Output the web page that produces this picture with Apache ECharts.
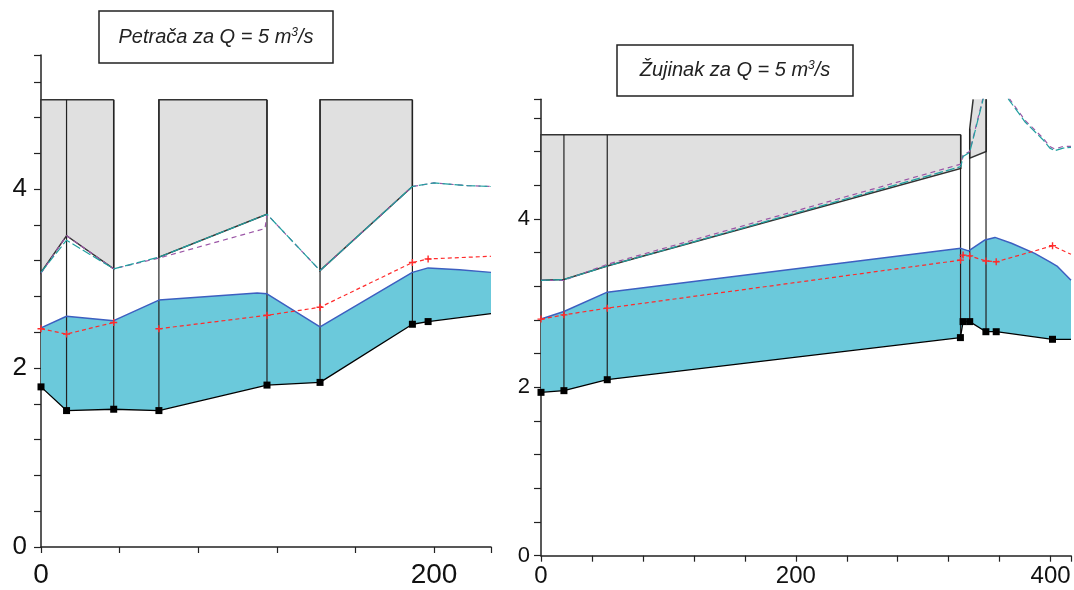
<!DOCTYPE html>
<html>
<head>
<meta charset="utf-8">
<script src="https://cdn.jsdelivr.net/npm/echarts@6/dist/echarts.min.js"></script>
<style>
html,body{margin:0;padding:0;background:#fff;}
#chart{width:1074px;height:590px;}
</style>
</head>
<body>
<div id="chart"></div>
<script>
// ---------- Petrača (left profile) ----------
const petStations = [0, 13, 37, 60, 115, 142, 189, 197, 229];
const petGround   = [1.79, 1.525, 1.54, 1.525, 1.81, 1.84, 2.49, 2.52, 2.61];
const petWater = [[0,2.45],[13,2.58],[37,2.53],[60,2.76],[110,2.84],[115,2.83],[142,2.46],[189,3.07],[197,3.12],[213,3.10],[229,3.07]];
const petCrit  = [[0,2.44],[13,2.38],[37,2.51],[48,null],[60,2.44],[115,2.59],[142,2.68],[189,3.18],[197,3.22],[229,3.25]];
const petEnergy  = [[0,3.07],[13,3.43],[37,3.11],[60,3.24],[115,3.72],[142,3.09],[189,4.03],[200,4.07],[217,4.04],[229,4.03]];
const petEnergy2 = [[0,3.06],[13,3.48],[37,3.11],[60,3.23],[114,3.56],[115,3.72],[142,3.09],[189,4.03],[200,4.07],[217,4.04],[229,4.03]];
const petDecks = [
  [[37,5],[0,5],[0,3.07],[13,3.48],[37,3.11],[37,5]],
  [[115,5],[60,5],[60,3.24],[115,3.72],[115,5]],
  [[189,5],[142,5],[142,3.09],[189,4.03],[189,5]]
];
const petPiers = [[13,5,1.525],[37,5,1.54],[60,5,1.525],[115,5,1.81],[142,5,1.84],[189,5,2.49]];

// ---------- Žujinak (right profile) ----------
const zujStations = [0, 18, 52, 329.2, 331.3, 336.5, 349.2, 357.3, 401.5, 416];
const zujGround   = [1.94, 1.96, 2.09, 2.59, 2.78, 2.78, 2.66, 2.66, 2.57, 2.57];
const zujWater = [[0,2.81],[18,2.90],[52,3.13],[329.5,3.65],[335.6,3.62],[348.5,3.75],[356.3,3.78],[369.3,3.71],[387.5,3.59],[399.4,3.49],[405,3.44],[416,3.27]];
const zujCrit  = [[0,2.81],[18,2.86],[52,2.94],[329.3,3.51],[331.3,3.57],[336.5,3.56],[349.2,3.50],[357.3,3.49],[401.5,3.68],[416,3.58]];
const zujEnergy  = [[0,3.27],[18,3.28],[52,3.44],[329.5,4.62],[331.3,4.74],[336.5,4.79],[347,5.42],[356,5.95],[367,5.42],[380,5.15],[394,4.94],[399.4,4.84],[403.3,4.81],[409.8,4.84],[416,4.85]];
const zujEnergy2 = [[0,3.27],[18,3.27],[52,3.46],[329.5,4.65],[331.3,4.76],[336.5,4.80],[347,5.44],[356,5.97],[367,5.44],[380,5.17],[394,4.96],[399.4,4.86],[403.3,4.83],[409.8,4.86],[416,4.86]];
const zujDecks = [
  [[329.5,5],[0,5],[0,3.27],[18,3.28],[52,3.44],[329.5,4.60],[329.5,5]],
  [[339.2,5.42],[336.5,5.07],[336.5,4.72],[349.5,4.80],[349.5,5.42]]
];
const zujPiers = [[18,5,1.96],[52,5,2.09],[329.3,5,2.59],[336.5,5.07,2.78],[349.3,5.42,2.66]];

// axis ranges and tick steps
const petXMax = 229, petYMax = 5.5;
const zujXMax = 416, zujYMax = 5.42;
const xStep = 40, yStep = 0.4;

const COLORS = {
  deck: '#e0e0e0', outline: '#333333', water: '#6bc9db', wsLine: '#3d5fc0',
  crit: '#ff2b2b', energy: '#21a0a0', energy2: '#9b55a6', ground: '#000000'
};

const chart = echarts.init(document.getElementById('chart'));

function pairs(xs, ys) { return xs.map((x, i) => [x, ys[i]]); }

function deckSeries(decks, idx) {
  return {
    type: 'custom', xAxisIndex: idx, yAxisIndex: idx, z: 1, silent: true,
    data: decks.map(d => d[2]),
    renderItem: (params, api) => {
      const pts = decks[params.dataIndex].map(p => api.coord(p));
      return { type: 'group', children: [
        { type: 'polygon', shape: { points: pts }, style: { fill: COLORS.deck } },
        { type: 'polyline', shape: { points: pts }, style: { stroke: COLORS.outline, lineWidth: 1.5, fill: null } }
      ]};
    }
  };
}

function waterFillSeries(water, stations, ground, idx) {
  return {
    type: 'custom', xAxisIndex: idx, yAxisIndex: idx, z: 2, silent: true,
    data: [water[0]],
    renderItem: (params, api) => {
      const top = water.map(p => api.coord(p));
      const bottom = pairs(stations, ground).reverse().map(p => api.coord(p));
      return { type: 'polygon', shape: { points: top.concat(bottom) }, style: { fill: COLORS.water } };
    }
  };
}

function pierSeries(piers, idx) {
  return {
    type: 'custom', xAxisIndex: idx, yAxisIndex: idx, z: 3, silent: true,
    data: piers, encode: { x: 0, y: [1, 2] },
    renderItem: (params, api) => {
      const a = api.coord([api.value(0), api.value(1)]);
      const b = api.coord([api.value(0), api.value(2)]);
      return { type: 'line', shape: { x1: a[0], y1: a[1], x2: b[0], y2: b[1] }, style: { stroke: '#222', lineWidth: 1.2 } };
    }
  };
}

function lineSeries(data, idx, color, width, dash, z, extra) {
  return Object.assign({
    type: 'line', xAxisIndex: idx, yAxisIndex: idx, data: data, z: z,
    symbol: 'none', silent: true, clip: true,
    lineStyle: { color: color, width: width, type: dash }
  }, extra || {});
}

const plus = 'path://M4,0H6V4H10V6H6V10H4V6H0V4H4Z';

function seriesFor(p, idx) {
  const ground = pairs(p.stations, p.ground);
  return [
    deckSeries(p.decks, idx),
    waterFillSeries(p.water, p.stations, p.ground, idx),
    pierSeries(p.piers, idx),
    lineSeries(p.water, idx, COLORS.wsLine, 1.5, 'solid', 4),
    lineSeries(ground, idx, COLORS.ground, 1.3, 'solid', 5, {
      symbol: 'rect', itemStyle: { color: COLORS.ground },
      symbolSize: (v, prm) => prm.dataIndex === ground.length - 1 ? 0 : 7
    }),
    lineSeries(p.energy2, idx, COLORS.energy2, 1.2, [5, 4], 6),
    lineSeries(p.energy, idx, COLORS.energy, 1.2, [9, 3], 6),
    lineSeries(p.crit, idx, COLORS.crit, 1.2, [4, 3], 7, {
      symbol: plus, itemStyle: { color: COLORS.crit },
      symbolSize: (v, prm) => prm.dataIndex === p.crit.length - 1 ? 0 : 7
    })
  ];
}

const labelEvery = step => v => (Math.abs(v / step - Math.round(v / step)) < 1e-6 ? String(Math.round(v)) : '');

function xAxis(idx, max, fontSize, margin) {
  return {
    type: 'value', gridIndex: idx, min: 0, max: max, interval: xStep,
    axisLine: { show: true, onZero: false, lineStyle: { color: '#222', width: 1.5 } },
    axisTick: { show: true, length: 6, lineStyle: { color: '#222', width: 1.2 } },
    axisLabel: { formatter: labelEvery(200), fontSize: fontSize, fontFamily: 'Liberation Sans', color: '#111', margin: margin },
    splitLine: { show: false }
  };
}
function yAxis(idx, max, fontSize, margin) {
  return {
    type: 'value', gridIndex: idx, min: 0, max: max, interval: yStep,
    axisLine: { show: true, onZero: false, lineStyle: { color: '#222', width: 1.5 } },
    axisTick: { show: true, length: 7, lineStyle: { color: '#222', width: 1.2 } },
    axisLabel: { formatter: labelEvery(2), fontSize: fontSize, fontFamily: 'Liberation Sans', color: '#111', margin: margin },
    splitLine: { show: false }
  };
}

function titleBox(x, y, w, h, name) {
  return { type: 'group', children: [
    { type: 'rect', shape: { x: x, y: y, width: w, height: h }, style: { fill: '#fff', stroke: '#222', lineWidth: 1.5 } },
    { type: 'text', x: x + w / 2, y: y + h / 2, style: {
      text: '{a|' + name + ' za Q = 5 m}{s|3}{a|/s}', align: 'center', verticalAlign: 'middle',
      rich: {
        a: { fontSize: 20, fontStyle: 'italic', fontFamily: 'Liberation Sans', fill: '#222', lineHeight: 24 },
        s: { fontSize: 12, fontStyle: 'italic', fontFamily: 'Liberation Sans', fill: '#222', lineHeight: 24, padding: [0, 0, 9, 0] }
      }
    }}
  ]};
}

const pet = { stations: petStations, ground: petGround, water: petWater, crit: petCrit, energy: petEnergy, energy2: petEnergy2, decks: petDecks, piers: petPiers };
const zuj = { stations: zujStations, ground: zujGround, water: zujWater, crit: zujCrit, energy: zujEnergy, energy2: zujEnergy2, decks: zujDecks, piers: zujPiers };

chart.setOption({
  animation: false,
  backgroundColor: '#fff',
  grid: [
    { left: 41, top: 55, width: 450, height: 492 },
    { left: 541, top: 99.3, width: 533.2, height: 456.4 }
  ],
  xAxis: [xAxis(0, petXMax, 28, 14), xAxis(1, zujXMax, 24, 9)],
  yAxis: [yAxis(0, petYMax, 26, 14), yAxis(1, zujYMax, 22, 11)],
  series: seriesFor(pet, 0).concat(seriesFor(zuj, 1)),
  graphic: [
    titleBox(99, 11, 234, 52, 'Petrača'),
    titleBox(617, 45, 236, 51, 'Žujinak')
  ]
});
</script>
</body>
</html>
